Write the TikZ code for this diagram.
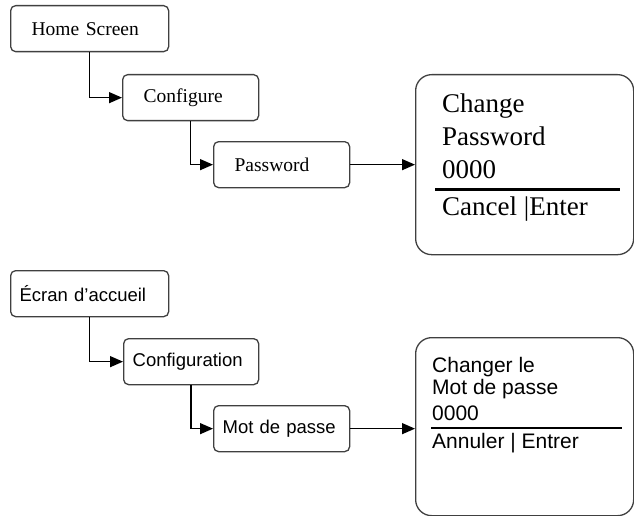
\documentclass[tikz,border=0pt]{standalone}
\usepackage{fontspec}
\setmainfont{Liberation Serif}
\setsansfont{Liberation Sans}
\usepackage{tikz}
\usetikzlibrary{positioning}
\usetikzlibrary{arrows.meta}

\tikzset{
  menubox/.style={draw=black!75, line width=1.3pt, rounded corners=5pt, anchor=north west,
    minimum height=46pt, align=left, inner ysep=0pt},
  screen/.style={draw=black!75, line width=1.3pt, rounded corners=16pt, anchor=north west,
    minimum width=218pt, inner sep=0pt},
  line/.style={anchor=base west, inner sep=0pt},
  link/.style={line width=1.4pt, -{Triangle[length=13pt,width=11pt]}}
}

\begin{document}
\begin{tikzpicture}[x=1pt,y=-1pt]
            \useasboundingbox (0,0) rectangle (634,516);

            % English menu
            \begin{scope}[font=\fontsize{19.5}{22}\selectfont, menubox/.append style={inner xsep=21pt}]
            \node[menubox, text width=116pt] (home) at (10,5) {Home Screen};
            \node[menubox, text width=94pt] (conf) at (122,74) {Configure};
            \node[menubox, text width=94pt] (pass) at (213,141) {Password};
            \end{scope}
            \node[screen, minimum height=180pt] (chg) at (415,74) {};
            \begin{scope}[font=\fontsize{27}{32}\selectfont]
            \node[line] (chg1) at (442,113) {Change};
            \node[line] (chg2) at (442,145) {Password};
            \node[line] (chg3) at (442,178) {0000};
            \node[line] (chg4) at (442,215) {Cancel |Enter};
            \end{scope}
            \draw[line width=3pt] (435,189) -- (620,189);

            \draw[link] (home.south) |- (conf.west);
            \draw[link] (conf.south) |- (pass.west);
            \draw[link] (pass.east) -- (chg.west |- pass.east);

            % French menu
            \begin{scope}[font=\sffamily\fontsize{18.5}{22}\selectfont, menubox/.append style={inner xsep=9pt}]
            \node[menubox, text width=140pt] (acc) at (10,270) {Écran d’accueil};
            \node[menubox, text width=117pt] (cfg) at (123,338) {Configuration};
            \node[menubox, text width=118pt] (mdp) at (213,405) {Mot de passe};
            \end{scope}
            \node[screen, minimum height=178pt] (chgr) at (415,337) {};
            \begin{scope}[font=\sffamily\fontsize{21}{24}\selectfont]
            \node[line] (chgr1) at (432,372) {Changer le};
            \node[line] (chgr2) at (432,394) {Mot de passe};
            \node[line] (chgr3) at (432,420) {0000};
            \node[line] (chgr4) at (432,448) {Annuler | Entrer};
            \end{scope}
            \draw[line width=2pt] (431,428) -- (622,428);

            \draw[link] (acc.south) |- (cfg.west);
            \draw[link] (cfg.south) |- (mdp.west);
            \draw[link] (mdp.east) -- (chgr.west |- mdp.east);
        \end{tikzpicture}
\end{document}
